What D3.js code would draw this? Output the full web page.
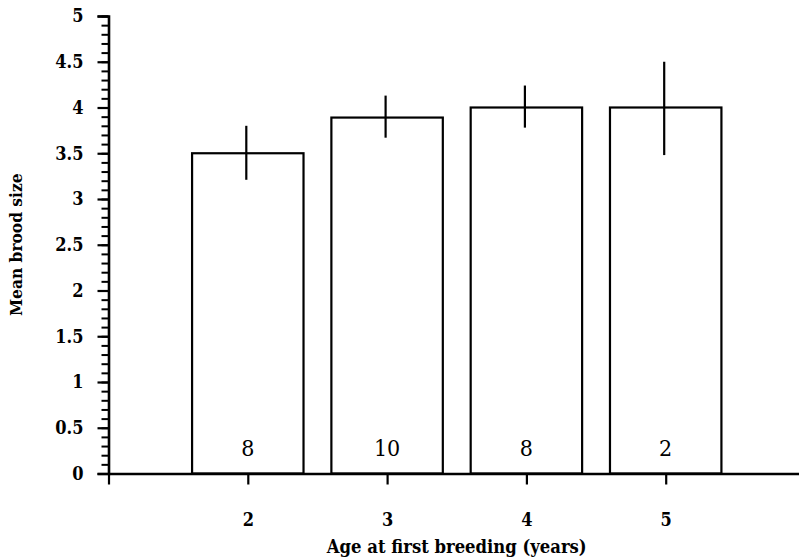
<!DOCTYPE html>
<html>
<head>
<meta charset="utf-8">
<script src="https://cdn.jsdelivr.net/npm/d3@7/dist/d3.min.js"></script>
<style>
  html, body { margin: 0; padding: 0; background: #fff; }
  svg { display: block; }
  text { font-family: 'DejaVu Serif Condensed', 'DejaVu Serif', serif; font-stretch: condensed; fill: #000; }
</style>
</head>
<body>
<svg id="chart" width="799" height="557"></svg>
<script>
// ---- data ----
const categories = [2, 3, 4, 5];
const meanBrood = [3.5, 3.89, 4.0, 4.0];
const errLow = [3.21, 3.67, 3.78, 3.48];
const errHigh = [3.80, 4.13, 4.24, 4.50];
const sampleN = ["8", "10", "8", "2"];
const xTickLabels = ["2", "3", "4", "5"];
const yTickLabels = ["0", "0.5", "1", "1.5", "2", "2.5", "3", "3.5", "4", "4.5", "5"];
const yMinorStep = 0.1;
const xTitle = "Age at first breeding (years)";
const yTitle = "Mean brood size";

// ---- scales ----
const svg = d3.select("#chart");
const x = d3.scaleLinear().domain([1, 6]).range([108.5, 805]);
const y = d3.scaleLinear().domain([0, 5]).range([473.5, 16]);
const bw = (x(2) - x(1)) * 0.8;

// ---- bars ----
const data = categories.map((c, i) => ({ c, m: meanBrood[i], lo: errLow[i], hi: errHigh[i], n: sampleN[i] }));

svg.append("g").selectAll("rect").data(data).join("rect")
  .attr("x", d => x(d.c) - bw / 2)
  .attr("y", d => y(d.m))
  .attr("width", bw)
  .attr("height", d => y(0) - y(d.m))
  .attr("fill", "#fff")
  .attr("stroke", "#000")
  .attr("stroke-width", 2.2);

svg.append("g").selectAll("line").data(data).join("line")
  .attr("x1", d => x(d.c) - 1.5).attr("x2", d => x(d.c) - 1.5)
  .attr("y1", d => y(d.lo)).attr("y2", d => y(d.hi))
  .attr("stroke", "#000").attr("stroke-width", 2.2);

svg.append("g").selectAll("text").data(data).join("text")
  .attr("x", d => x(d.c))
  .attr("y", y(0) - 18)
  .attr("text-anchor", "middle")
  .attr("font-size", 23)
  .text(d => d.n);

// ---- y axis ----
const minorVals = d3.range(0, 5 + 1e-9, yMinorStep).map(v => +v.toFixed(1));
const yMinor = svg.append("g").attr("transform", `translate(${x(1)},0)`)
  .call(d3.axisLeft(y).tickValues(minorVals).tickSize(7).tickFormat(""));
yMinor.select(".domain").remove();
yMinor.selectAll("line").attr("stroke-width", 2);

const majorVals = yTickLabels.map(Number);
const yMajor = svg.append("g").attr("transform", `translate(${x(1)},0)`)
  .call(d3.axisLeft(y).tickValues(majorVals).tickSize(11).tickPadding(14)
    .tickFormat((d, i) => yTickLabels[i]));
yMajor.select(".domain").attr("stroke-width", 2.6);
yMajor.selectAll("line").attr("stroke-width", 2.2);
yMajor.selectAll("text").attr("font-size", 18).attr("font-weight", "bold");

// ---- x axis ----
const xAxis = svg.append("g").attr("transform", `translate(0,${y(0)})`)
  .call(d3.axisBottom(x).tickValues([1].concat(categories)).tickSize(11).tickSizeOuter(0).tickPadding(29)
    .tickFormat(d => d === 1 ? "" : xTickLabels[categories.indexOf(d)]));
xAxis.select(".domain").attr("stroke-width", 2.6);
xAxis.selectAll("line").attr("stroke-width", 2.2);
xAxis.selectAll("text").attr("font-size", 18).attr("font-weight", "bold");

// ---- titles ----
svg.append("text")
  .attr("x", (x(1) + x(6)) / 2).attr("y", 553)
  .attr("text-anchor", "middle")
  .attr("font-size", 18.3).attr("font-weight", "bold")
  .text(xTitle);

svg.append("text")
  .attr("transform", `translate(22,${(y(0) + y(5)) / 2}) rotate(-90)`)
  .attr("text-anchor", "middle")
  .attr("font-size", 17.2).attr("font-weight", "bold")
  .text(yTitle);
</script>
</body>
</html>
